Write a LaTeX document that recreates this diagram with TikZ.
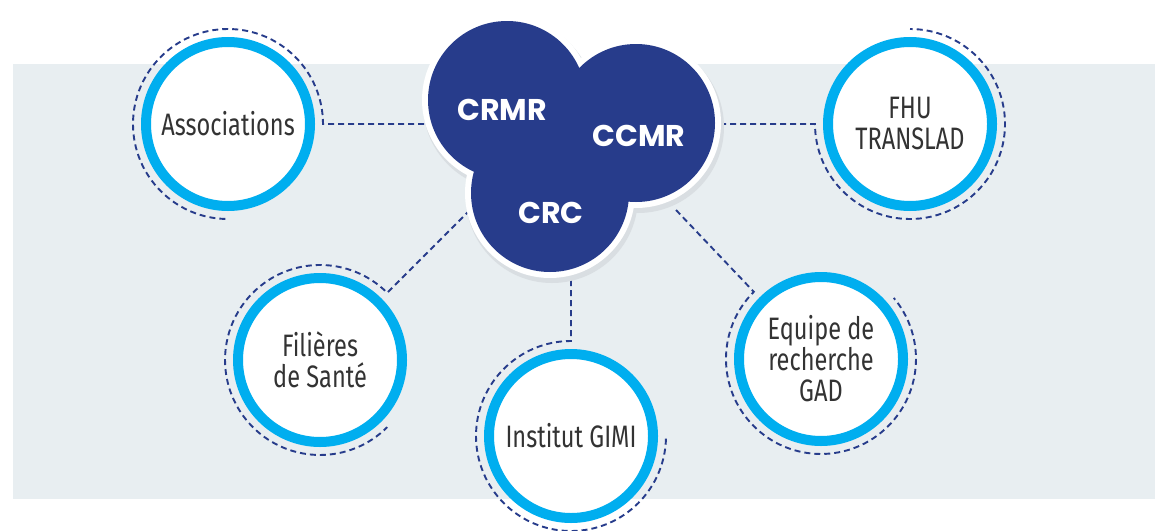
\documentclass[tikz,border=0pt]{standalone}
\usepackage{fontspec}
\setmainfont{Fira Sans}
\newfontfamily\condfont[FakeStretch=0.76]{Fira Sans}
\newfontfamily\popfont{Poppins}
\definecolor{navy}{HTML}{273C8B}
\definecolor{ringc}{HTML}{00AEEF}
\definecolor{bgc}{HTML}{E8EEF1}
\definecolor{txtc}{HTML}{333333}
\definecolor{shadowc}{HTML}{D9DEE2}
\begin{document}
\begin{tikzpicture}[x=1pt,y=-1pt,
  conn/.style={draw=navy, line width=1.9pt, dash pattern=on 6pt off 4pt},
  partner/.style={circle, fill=white, draw=ringc, line width=10pt, minimum size=164pt,
    inner sep=0pt, align=center, text=txtc, font=\condfont\fontsize{31}{31}\selectfont},
  hub/.style={text=white, inner sep=0pt, font=\popfont\bfseries\fontsize{30}{30}\selectfont}]
\useasboundingbox (0,0) rectangle (1155,530);
\fill[bgc] (13,64) rectangle (1155,499);

% attachment points
\coordinate (hubA) at (424,124);
\coordinate (hubF) at (470,210);
\coordinate (hubG) at (571,270);
\coordinate (hubE) at (676,210);
\coordinate (hubH) at (720,124);
\coordinate (pA) at (323,124);
\coordinate (pF) at (387.2,292.8);
\coordinate (pG) at (571,341);
\coordinate (pE) at (753.8,291.8);
\coordinate (pH) at (815,124);

% connectors
\draw[conn] (hubA) -- (pA) arc[start angle=0, end angle=-270, radius=95];
\draw[conn] (hubF) -- (pF) arc[start angle=-45, end angle=-315, radius=95];
\draw[conn] (hubG) -- (pG) arc[start angle=-90, end angle=-360, radius=95];
\draw[conn] (hubE) -- (pE) arc[start angle=-135, end angle=-400, radius=95];
\draw[conn] (hubH) -- (pH) arc[start angle=-180, end angle=-450, radius=95];

% partner circles
\node[partner] (assoc) at (228,124) {Associations};
\node[partner] (fil) at (320,360) {Filières\\de Santé};
\node[partner] (gimi) at (571,436) {Institut GIMI};
\node[partner] (gad) at (821,359) {Equipe de\\recherche\\GAD};
\node[partner] (fhu) at (910,124) {FHU\\TRANSLAD};

% central cluster
\fill[shadowc] (509,104) circle[radius=86] (638,127) circle[radius=86] (552,197) circle[radius=86];
\fill[white] (507,100) circle[radius=85] (636,123) circle[radius=85] (550,193) circle[radius=85];
\fill[navy] (507,100) circle[radius=79] (636,123) circle[radius=79] (550,193) circle[radius=79];
\node[hub] (crmr) at (502,110) {CRMR};
\node[hub] (ccmr) at (639,136) {CCMR};
\node[hub] (crc) at (551,213) {CRC};
\end{tikzpicture}
\end{document}
